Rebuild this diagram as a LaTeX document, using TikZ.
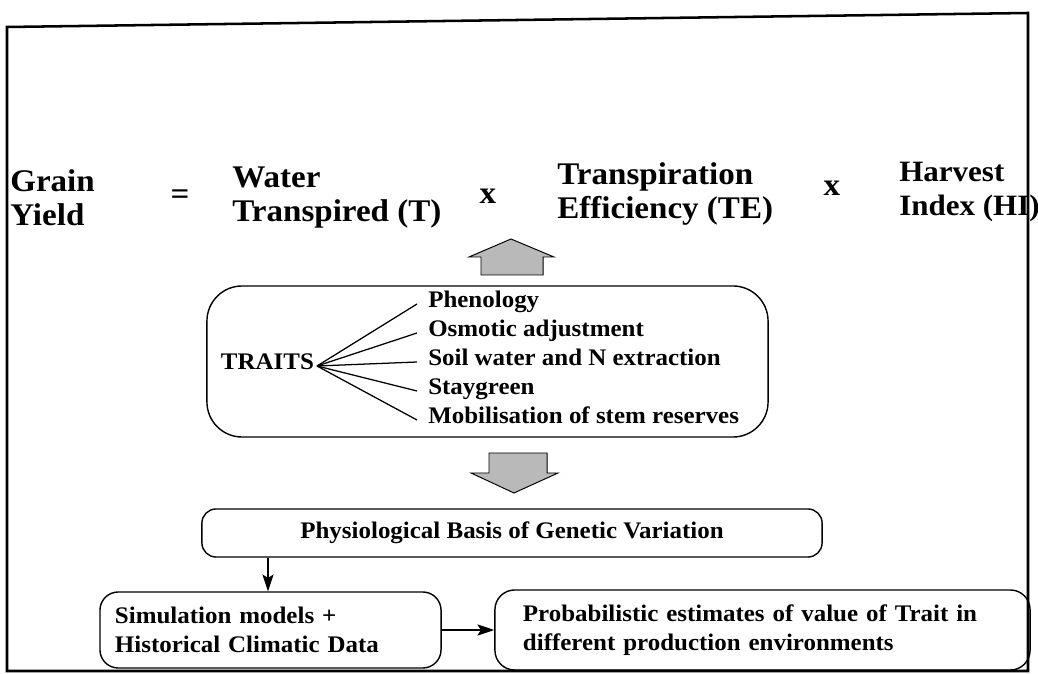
\documentclass[tikz,border=0pt]{standalone}
\usepackage{fontspec}
\setmainfont{Liberation Serif}[FakeStretch=1.05]
\usetikzlibrary{arrows.meta}

\tikzset{
  eqterm/.style={font=\bfseries\fontsize{22.4}{24.2}\selectfont, align=left, anchor=base west, inner sep=0pt},
  eqsign/.style={font=\bfseries\fontsize{22.4}{24.2}\selectfont, anchor=base, inner sep=0pt},
  trait/.style={font=\bfseries\fontsize{16.9}{20.6}\selectfont, anchor=west, inner xsep=0.275cm, inner ysep=0pt, text height=0.7em, text depth=0.2em},
  roundbox/.style={draw, line width=1pt},
  boxtext/.style={font=\bfseries\fontsize{16.9}{20.6}\selectfont},
  blockarrow/.style={draw, line width=0.7pt, fill=gray!55},
  conn/.style={line width=0.9pt, -{Stealth[length=12pt, width=8pt, inset=2.5pt]}}
}

\begin{document}
\begin{tikzpicture}[x=0.025cm, y=-0.025cm]
  \useasboundingbox (0,0) rectangle (1038,674);
  % outer frame
  \draw[line width=1.8pt] (7,27) -- (1028,13) -- (1028,671) -- (7,671) -- cycle;

  % the equation (base is the second line)
  \node[eqterm] (grain) at (10,226) {Grain\\Yield};
  \node[eqsign] (equals) at (180,205) {=};
  \node[eqterm] (water) at (232,222) {Water\\Transpired (T)};
  \node[eqsign] (times1) at (488,204) {x};
  \node[eqterm] (te) at (557,219) {Transpiration\\Efficiency (TE)};
  \node[eqsign] (times2) at (832,196) {x};
  \node[eqterm, font=\bfseries\fontsize{21}{24.2}\selectfont] (hi) at (899,216) {Harvest\\Index (HI)};

  % block arrows
  \draw[blockarrow] (481,275) -- (481,257) -- (469,257) -- (511,239) -- (554,257)
    -- (543,257) -- (543,275) -- cycle;
  \draw[blockarrow] (489,453) -- (547,453) -- (547,473) -- (558,473) -- (514,493)
    -- (471,473) -- (489,473) -- cycle;

  % traits box
  \node[roundbox, rounded corners=25pt, minimum width=14.025cm, minimum height=3.775cm]
    (traitsbox) at (487.5,361.5) {};
  \node[trait, anchor=east, inner xsep=2pt] (traits) at (317,366) {TRAITS};
  \node[trait] (phen) at (417,304) {Phenology};
  \node[trait] (osm) at (417,333) {Osmotic adjustment};
  \node[trait] (soil) at (417,362) {Soil water and N extraction};
  \node[trait] (stay) at (417,391) {Staygreen};
  \node[trait] (mob) at (417,420) {Mobilisation of stem reserves};
  \foreach \t in {phen,osm,soil,stay,mob}
    \draw[line width=0.9pt] (traits.east) -- (\t.west);

  % lower boxes
  \node[roundbox, boxtext, rounded corners=10pt, minimum width=15.5cm, minimum height=1.2cm]
    (physio) at (512,533) {Physiological Basis of Genetic Variation};
  \node[roundbox, boxtext, rounded corners=13pt, align=left, inner xsep=0.375cm,
    text width=7.775cm, minimum height=1.9cm]
    (sim) at (270.5,630) {Simulation models +\\Historical Climatic Data};
  \node[roundbox, boxtext, rounded corners=14pt, align=left, inner xsep=0.7cm,
    text width=11.975cm, minimum height=2cm]
    (prob) at (762.5,630) {Probabilistic estimates of value of Trait in\\different production environments};

  \coordinate (drop) at (268,560);
  \draw[conn] (physio.south -| drop) -- (sim.north -| drop);
  \draw[conn] (sim.east) -- (prob.west);
\end{tikzpicture}
\end{document}
